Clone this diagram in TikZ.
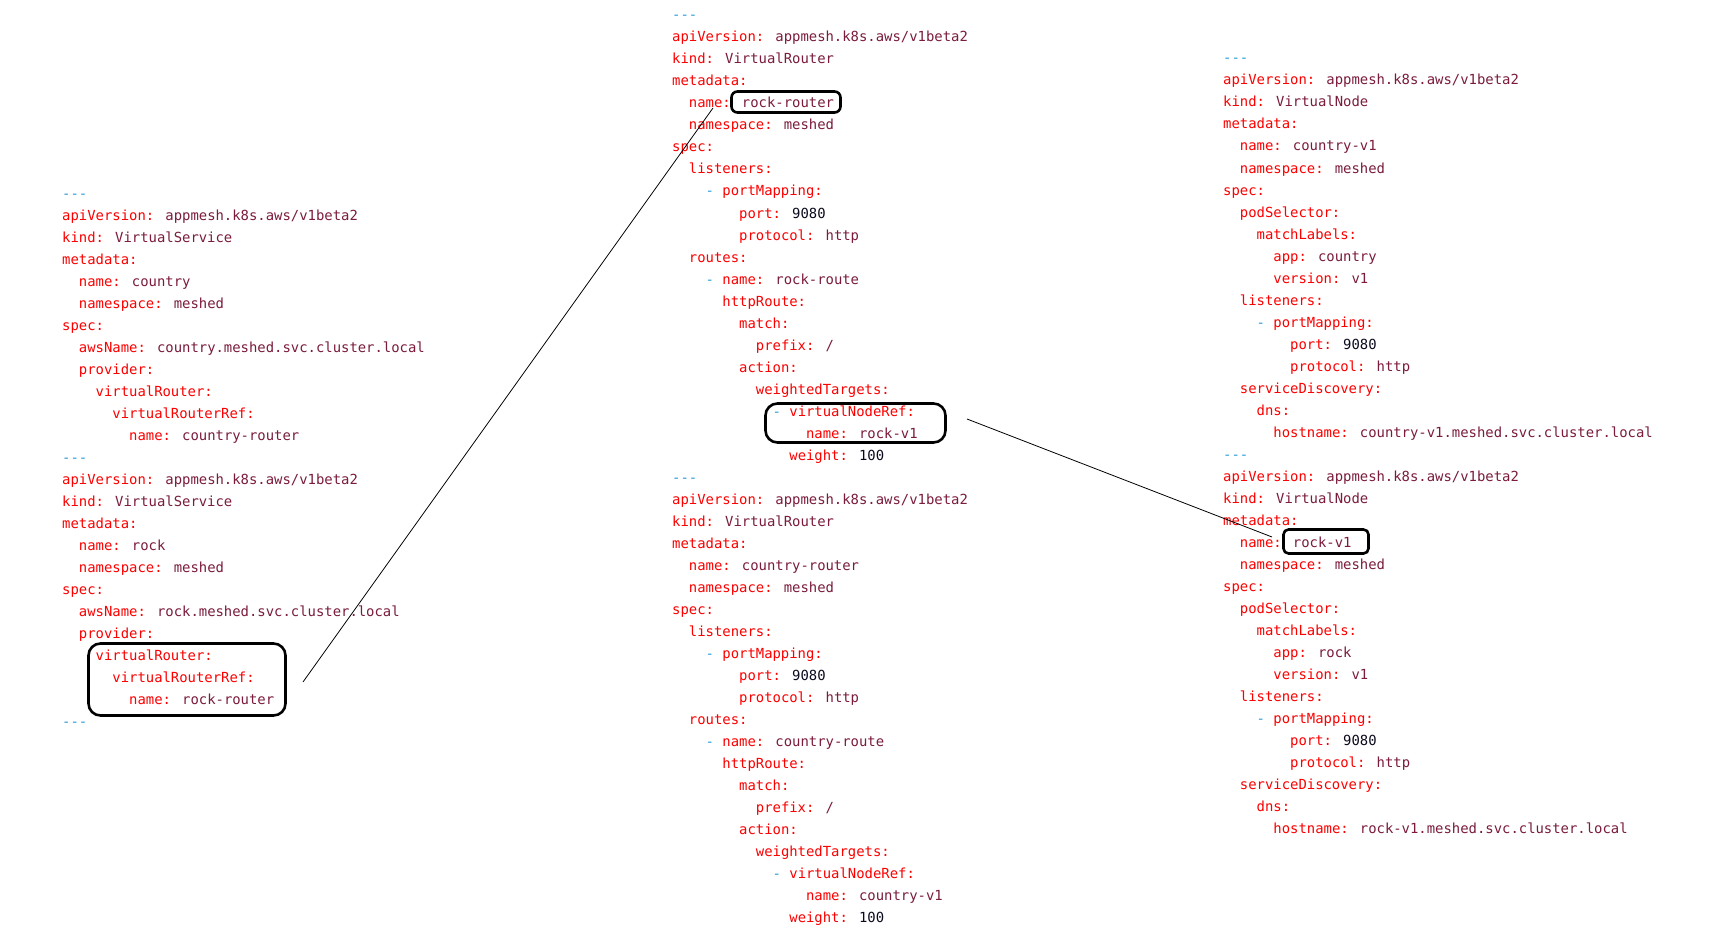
\documentclass[tikz,border=0pt]{standalone}
\usepackage{fontspec}
\newfontfamily\codefont{DejaVu Sans Mono}
\definecolor{keyc}{RGB}{252,0,0}
\definecolor{valc}{RGB}{122,28,58}
\definecolor{numc}{RGB}{10,10,30}
\definecolor{dashc}{RGB}{40,155,215}
\newcommand\K[1]{\textcolor{keyc}{#1:}}
\newcommand\V[1]{\textcolor{valc}{#1}}
\newcommand\N[1]{\textcolor{numc}{#1}}
\newcommand\D{\textcolor{dashc}{-}}
\newcommand\DD{\textcolor{dashc}{-{}-{}-}}
\newcommand\Row[6]{\node[txt] (#1#2) at ({#3+#5*8.37},{#4+22*#2+5}) {#6};}
\newcommand\A[3]{\Row{a}{#1}{62}{193}{#2}{#3}}
\newcommand\M[3]{\Row{m}{#1}{672}{15}{#2}{#3}}
\newcommand\R[3]{\Row{r}{#1}{1223}{58}{#2}{#3}}
\begin{document}
\begin{tikzpicture}[x=1pt,y=-1pt,
  txt/.style={anchor=base west,inner sep=0pt,font=\codefont\fontsize{13.9}{16}\selectfont},
  hl/.style={draw=black,line width=2.6pt,rounded corners=#1,inner sep=0pt},
  conn/.style={draw=black,line width=0.8pt}]
\useasboundingbox (0,0) rectangle (1730,939);
% ---------------- left column
\A{0}{0}{\DD}
\A{1}{0}{\K{apiVersion} \V{appmesh.k8s.aws/v1beta2}}
\A{2}{0}{\K{kind} \V{VirtualService}}
\A{3}{0}{\K{metadata}}
\A{4}{2}{\K{name} \V{country}}
\A{5}{2}{\K{namespace} \V{meshed}}
\A{6}{0}{\K{spec}}
\A{7}{2}{\K{awsName} \V{country.meshed.svc.cluster.local}}
\A{8}{2}{\K{provider}}
\A{9}{4}{\K{virtualRouter}}
\A{10}{6}{\K{virtualRouterRef}}
\A{11}{8}{\K{name} \V{country-router}}
\A{12}{0}{\DD}
\A{13}{0}{\K{apiVersion} \V{appmesh.k8s.aws/v1beta2}}
\A{14}{0}{\K{kind} \V{VirtualService}}
\A{15}{0}{\K{metadata}}
\A{16}{2}{\K{name} \V{rock}}
\A{17}{2}{\K{namespace} \V{meshed}}
\A{18}{0}{\K{spec}}
\A{19}{2}{\K{awsName} \V{rock.meshed.svc.cluster.local}}
\A{20}{2}{\K{provider}}
\A{21}{4}{\K{virtualRouter}}
\A{22}{6}{\K{virtualRouterRef}}
\A{23}{8}{\K{name} \V{rock-router}}
\A{24}{0}{\DD}
% ---------------- middle column
\M{0}{0}{\DD}
\M{1}{0}{\K{apiVersion} \V{appmesh.k8s.aws/v1beta2}}
\M{2}{0}{\K{kind} \V{VirtualRouter}}
\M{3}{0}{\K{metadata}}
\M{4}{2}{\K{name} \V{rock-router}}
\M{5}{2}{\K{namespace} \V{meshed}}
\M{6}{0}{\K{spec}}
\M{7}{2}{\K{listeners}}
\M{8}{4}{\D\ \K{portMapping}}
\M{9}{8}{\K{port} \N{9080}}
\M{10}{8}{\K{protocol} \V{http}}
\M{11}{2}{\K{routes}}
\M{12}{4}{\D\ \K{name} \V{rock-route}}
\M{13}{6}{\K{httpRoute}}
\M{14}{8}{\K{match}}
\M{15}{10}{\K{prefix} \V{/}}
\M{16}{8}{\K{action}}
\M{17}{10}{\K{weightedTargets}}
\M{18}{12}{\D\ \K{virtualNodeRef}}
\M{19}{16}{\K{name} \V{rock-v1}}
\M{20}{14}{\K{weight} \N{100}}
\M{21}{0}{\DD}
\M{22}{0}{\K{apiVersion} \V{appmesh.k8s.aws/v1beta2}}
\M{23}{0}{\K{kind} \V{VirtualRouter}}
\M{24}{0}{\K{metadata}}
\M{25}{2}{\K{name} \V{country-router}}
\M{26}{2}{\K{namespace} \V{meshed}}
\M{27}{0}{\K{spec}}
\M{28}{2}{\K{listeners}}
\M{29}{4}{\D\ \K{portMapping}}
\M{30}{8}{\K{port} \N{9080}}
\M{31}{8}{\K{protocol} \V{http}}
\M{32}{2}{\K{routes}}
\M{33}{4}{\D\ \K{name} \V{country-route}}
\M{34}{6}{\K{httpRoute}}
\M{35}{8}{\K{match}}
\M{36}{10}{\K{prefix} \V{/}}
\M{37}{8}{\K{action}}
\M{38}{10}{\K{weightedTargets}}
\M{39}{12}{\D\ \K{virtualNodeRef}}
\M{40}{16}{\K{name} \V{country-v1}}
\M{41}{14}{\K{weight} \N{100}}
% ---------------- right column
\R{0}{0}{\DD}
\R{1}{0}{\K{apiVersion} \V{appmesh.k8s.aws/v1beta2}}
\R{2}{0}{\K{kind} \V{VirtualNode}}
\R{3}{0}{\K{metadata}}
\R{4}{2}{\K{name} \V{country-v1}}
\R{5}{2}{\K{namespace} \V{meshed}}
\R{6}{0}{\K{spec}}
\R{7}{2}{\K{podSelector}}
\R{8}{4}{\K{matchLabels}}
\R{9}{6}{\K{app} \V{country}}
\R{10}{6}{\K{version} \V{v1}}
\R{11}{2}{\K{listeners}}
\R{12}{4}{\D\ \K{portMapping}}
\R{13}{8}{\K{port} \N{9080}}
\R{14}{8}{\K{protocol} \V{http}}
\R{15}{2}{\K{serviceDiscovery}}
\R{16}{4}{\K{dns}}
\R{17}{6}{\K{hostname} \V{country-v1.meshed.svc.cluster.local}}
\R{18}{0}{\DD}
\R{19}{0}{\K{apiVersion} \V{appmesh.k8s.aws/v1beta2}}
\R{20}{0}{\K{kind} \V{VirtualNode}}
\R{21}{0}{\K{metadata}}
\R{22}{2}{\K{name} \V{rock-v1}}
\R{23}{2}{\K{namespace} \V{meshed}}
\R{24}{0}{\K{spec}}
\R{25}{2}{\K{podSelector}}
\R{26}{4}{\K{matchLabels}}
\R{27}{6}{\K{app} \V{rock}}
\R{28}{6}{\K{version} \V{v1}}
\R{29}{2}{\K{listeners}}
\R{30}{4}{\D\ \K{portMapping}}
\R{31}{8}{\K{port} \N{9080}}
\R{32}{8}{\K{protocol} \V{http}}
\R{33}{2}{\K{serviceDiscovery}}
\R{34}{4}{\K{dns}}
\R{35}{6}{\K{hostname} \V{rock-v1.meshed.svc.cluster.local}}
% ---------------- highlight boxes
\node[hl=12pt,minimum width=197pt,minimum height=72pt] (b1) at (187,679.5) {};
\node[hl=6pt,minimum width=109pt,minimum height=21pt] (b2) at (786,102) {};
\node[hl=12pt,minimum width=180pt,minimum height=39pt] (b3) at (855.5,423) {};
\node[hl=5pt,minimum width=85pt,minimum height=24pt] (b4) at (1326,541.5) {};
% ---------------- connectors
\coordinate (c1a) at (303,682);
\coordinate (c1b) at (713,108);
\coordinate (c2a) at (967,419);
\coordinate (c2b) at (1272,537);
\draw[conn] (c1a) -- (c1b);
\draw[conn] (c2a) -- (c2b);
\end{tikzpicture}
\end{document}
